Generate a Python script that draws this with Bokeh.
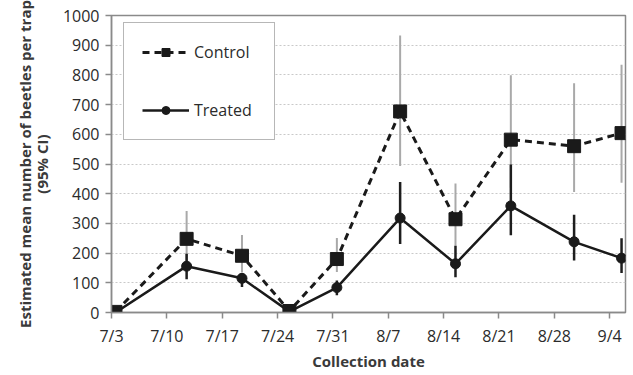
import pandas as pd
from bokeh.plotting import figure
from bokeh.models import Range1d, FixedTicker, Legend, LegendItem
from bokeh.embed import file_html
from bokeh.resources import INLINE

# ---- data ----
collection_dates = ["7/3", "7/12", "7/19", "7/25", "7/31", "8/8", "8/15", "8/22", "8/30", "9/5"]
control_mean = [2, 248, 191, 5, 180, 677, 314, 582, 560, 604]
control_low = [2, 175, 135, 5, 136, 493, 225, 420, 406, 437]
control_high = [2, 342, 261, 5, 251, 933, 434, 799, 772, 834]
treated_mean = [0, 156, 115, 3, 84, 318, 164, 359, 238, 183]
treated_low = [0, 112, 86, 3, 58, 231, 119, 260, 175, 133]
treated_high = [0, 198, 132, 3, 108, 439, 225, 498, 329, 250]
tick_dates = ["7/3", "7/10", "7/17", "7/24", "7/31", "8/7", "8/14", "8/21", "8/28", "9/4"]
axis_end_date = "9/7"
YEAR = "2011"

def to_day(s):
    return pd.to_datetime(s + "/" + YEAR, format="%m/%d/%Y")

start = to_day(tick_dates[0])
x_pts = [(to_day(d) - start).days + 0.5 for d in collection_dates]
x_ticks = [(to_day(d) - start).days for d in tick_dates]
x_end = (to_day(axis_end_date) - start).days - 1

FONT = "Open Sans"
TXT = "#2b2b2b"
AX = "#8a8a8a"

p = figure(width=630, height=373, output_backend="svg", toolbar_location=None,
           x_range=Range1d(0, x_end), y_range=Range1d(0, 1000),
           min_border_left=111, min_border_right=5, min_border_top=15, min_border_bottom=50)

p.outline_line_color = AX
p.outline_line_width = 1.5
p.background_fill_color = "white"

# axes
p.xaxis.ticker = FixedTicker(ticks=x_ticks)
p.xaxis.major_label_overrides = {t: l for t, l in zip(x_ticks, tick_dates)}
p.yaxis.ticker = FixedTicker(ticks=list(range(0, 1001, 100)))
for ax in (p.xaxis[0], p.yaxis[0]):
    ax.axis_line_color = AX
    ax.axis_line_width = 1.5
    ax.major_tick_line_color = AX
    ax.major_tick_line_width = 1.5
    ax.major_tick_out = 6
    ax.major_tick_in = 0
    ax.minor_tick_line_color = None
    ax.major_label_text_font = FONT
    ax.major_label_text_font_size = "16px"
    ax.major_label_text_color = TXT
    ax.axis_label_text_font = FONT
    ax.axis_label_text_font_style = "bold"
    ax.axis_label_text_font_size = "15px"
    ax.axis_label_text_color = "#3a3a3a"
p.yaxis.major_label_standoff = 6
p.xaxis.major_label_standoff = 6
p.xaxis.axis_label = "Collection date"
p.xaxis.axis_label_standoff = 1
p.yaxis.axis_label = "Estimated mean number of beetles per trap\n(95% CI)"
p.yaxis.axis_label_standoff = 8
p.yaxis.axis_label_text_line_height = 0.85

p.xgrid.grid_line_color = None
p.ygrid.grid_line_color = "#c9c9c9"
p.ygrid.grid_line_dash = "2 2"
p.ygrid.grid_line_width = 1

# error bars
p.segment(x0=x_pts, y0=control_low, x1=x_pts, y1=control_high,
          line_color="#a9a9a9", line_width=2)
p.segment(x0=x_pts, y0=treated_low, x1=x_pts, y1=treated_high,
          line_color="#1e1e1e", line_width=2.5)

# series
c_line = p.line(x_pts, control_mean, line_color="#1a1a1a", line_width=3, line_dash="7 5")
t_line = p.line(x_pts, treated_mean, line_color="#1a1a1a", line_width=2.5)
c_pts = p.scatter(x_pts, control_mean, marker="square", size=13,
                  fill_color="#1a1a1a", line_color="#1a1a1a")
t_pts = p.scatter(x_pts, treated_mean, marker="circle", size=10,
                  fill_color="#1a1a1a", line_color="#1a1a1a")

legend = Legend(items=[LegendItem(label="Control", renderers=[c_line, c_pts]),
                       LegendItem(label="Treated", renderers=[t_line, t_pts])],
                location=(12, 172), orientation="vertical")
legend.margin = 0
legend.padding = 18
legend.spacing = 36
legend.glyph_width = 47
legend.glyph_height = 20
legend.label_height = 20
legend.label_width = 62
legend.label_standoff = 5
legend.label_text_font = FONT
legend.label_text_font_size = "16px"
legend.label_text_color = TXT
legend.border_line_color = "#707070"
legend.border_line_width = 1.5
legend.background_fill_color = "white"
legend.background_fill_alpha = 1
p.add_layout(legend, "center")

open("out.html", "w").write(file_html(p, INLINE))
